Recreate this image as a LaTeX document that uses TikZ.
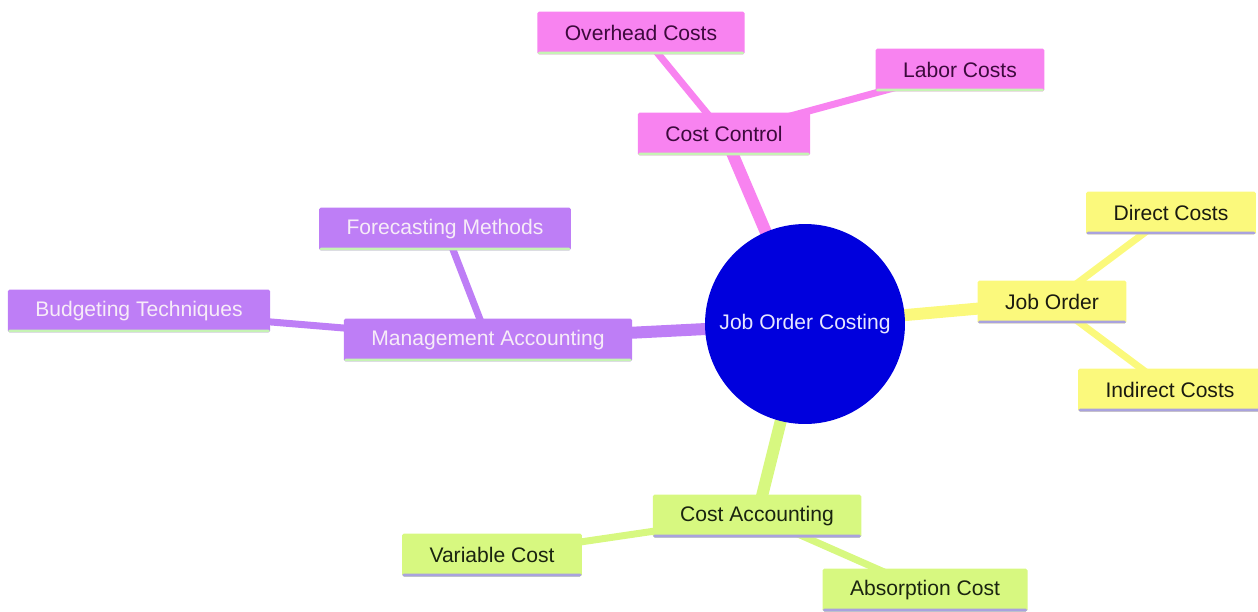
\documentclass[tikz,border=0pt]{standalone}
\usepackage{fontspec}
\setmainfont{Liberation Sans}
\usetikzlibrary{backgrounds}
\definecolor{RootBlue}{HTML}{0000DD}
\definecolor{RootInk}{HTML}{E6E6FF}
\definecolor{PinkBox}{HTML}{F883F0}
\definecolor{PinkInk}{HTML}{3D0A3D}
\definecolor{PurpleBox}{HTML}{BE7EF6}
\definecolor{PurpleInk}{HTML}{F7ECF8}
\definecolor{YellowBox}{HTML}{FBF97C}
\definecolor{YellowInk}{HTML}{1A1A10}
\definecolor{GreenBox}{HTML}{D7F880}
\definecolor{GreenInk}{HTML}{1A2410}
\definecolor{MintLine}{HTML}{C6F3B4}
\definecolor{LavLine}{HTML}{A9A2DE}

\begin{document}
\begin{tikzpicture}[
  x=0.02cm, y=-0.02cm,
  line cap=round, line join=round,
  box/.style={rectangle, rounded corners=1pt, inner xsep=0.55cm,
    minimum height=0.86cm, font=\fontsize{12}{14}\selectfont},
  bottomrule/.style={path picture={
    \fill[#1] ([yshift=1.6pt]path picture bounding box.south west)
      rectangle (path picture bounding box.south east);}},
  pinkbox/.style={box, fill=PinkBox, text=PinkInk, bottomrule=MintLine},
  purplebox/.style={box, fill=PurpleBox, text=PurpleInk, bottomrule=MintLine},
  yellowbox/.style={box, fill=YellowBox, text=YellowInk, bottomrule=LavLine},
  greenbox/.style={box, fill=GreenBox, text=GreenInk, bottomrule=LavLine},
  rootnode/.style={circle, fill=RootBlue, text=RootInk, inner sep=0pt,
    minimum size=4cm, font=\fontsize{12}{14}\selectfont},
  trunk/.style={line width=0.24cm, line cap=butt},
  twig/.style={line width=0.14cm, line cap=butt}
]

\useasboundingbox (0,0) rectangle (1258,612);

% === Centre ===
\node[rootnode] (root) at (805,324) {Job Order Costing};

% === Cost Control branch ===
\node[pinkbox] (ctrl)     at (724,134) {Cost Control};
\node[pinkbox] (overhead) at (641,33)  {Overhead Costs};
\node[pinkbox] (labor)    at (960,70)  {Labor Costs};

% === Management Accounting branch ===
\node[purplebox] (mgmt)     at (488,340) {Management Accounting};
\node[purplebox] (forecast) at (445,229) {Forecasting Methods};
\node[purplebox] (budget)   at (139,311) {Budgeting Techniques};

% === Job Order branch ===
\node[yellowbox] (joborder) at (1052,302) {Job Order};
\node[yellowbox] (direct)   at (1171,213) {Direct Costs};
\node[yellowbox] (indirect) at (1170,390) {Indirect Costs};

% === Cost Accounting branch ===
\node[greenbox] (costacc)    at (757,516) {Cost Accounting};
\node[greenbox] (variable)   at (492,555) {Variable Cost};
\node[greenbox] (absorption) at (925,590) {Absorption Cost};

% === Branch lines behind the boxes ===
\begin{scope}[on background layer]
  \foreach \a/\b/\col in {
    root/ctrl/PinkBox,
    root/mgmt/PurpleBox,
    root/joborder/YellowBox,
    root/costacc/GreenBox%
  }{
    \draw[trunk, \col] (\a.center) -- (\b.center);
  }
  \foreach \a/\b/\col in {
    ctrl/overhead/PinkBox,
    ctrl/labor/PinkBox,
    mgmt/forecast/PurpleBox,
    mgmt/budget/PurpleBox,
    joborder/direct/YellowBox,
    joborder/indirect/YellowBox,
    costacc/variable/GreenBox,
    costacc/absorption/GreenBox%
  }{
    \draw[twig, \col] (\a.center) -- (\b.center);
  }
\end{scope}

\end{tikzpicture}
\end{document}
